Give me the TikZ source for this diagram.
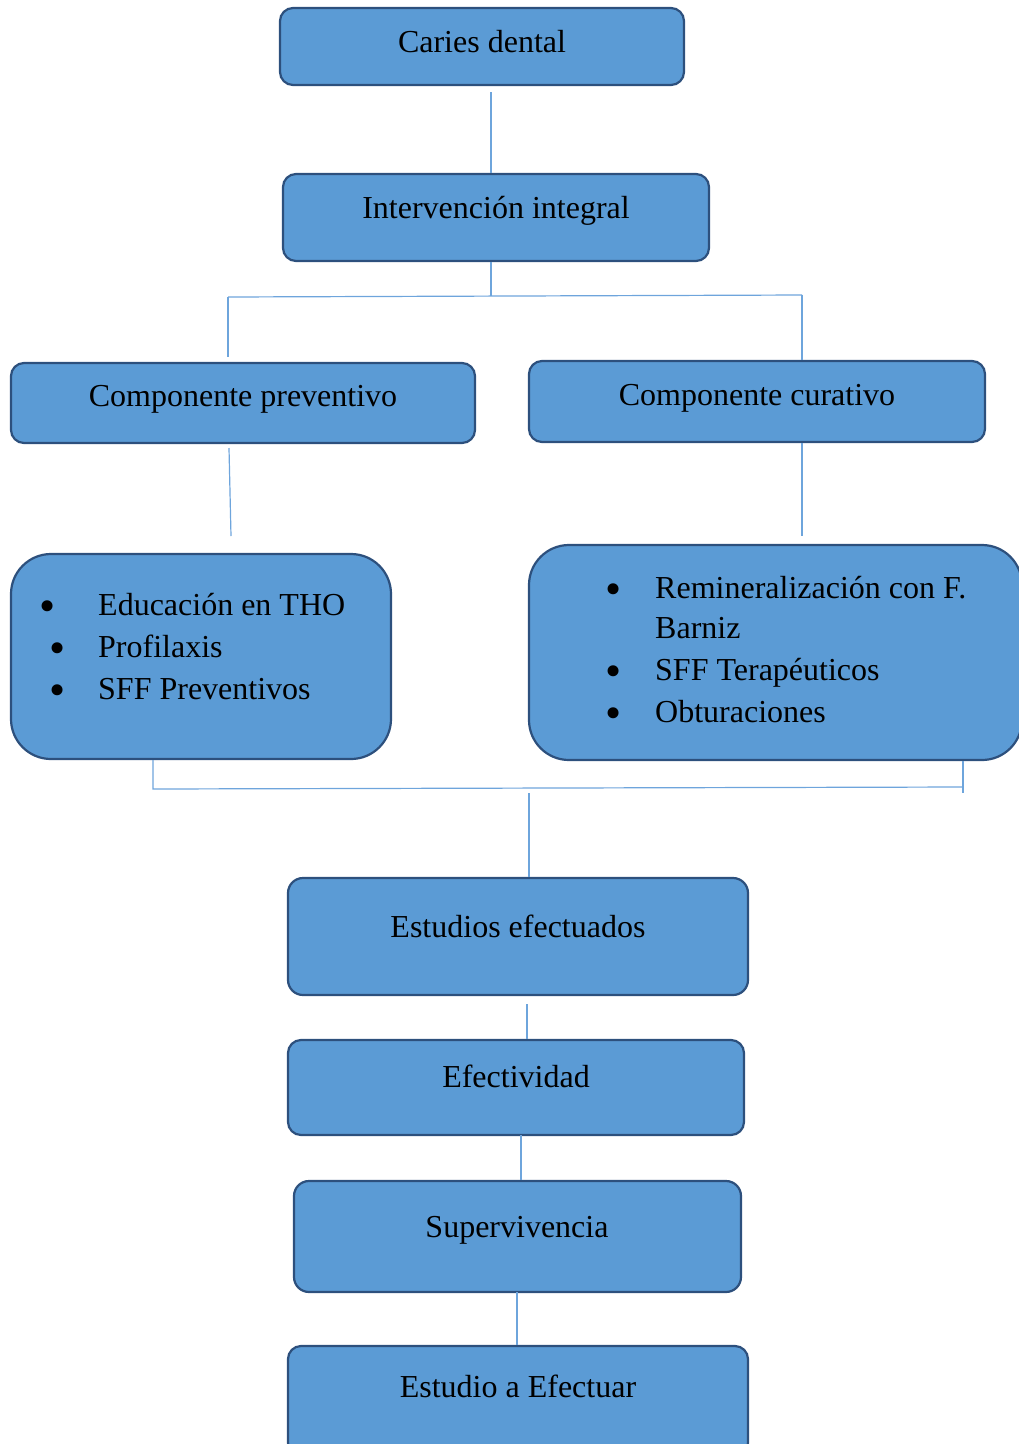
\documentclass[tikz,border=0pt]{standalone}
\usepackage{fontspec}
\setmainfont{Liberation Serif}
\definecolor{boxfill}{RGB}{91,155,213}
\definecolor{boxline}{RGB}{45,80,125}
\definecolor{connc}{RGB}{110,165,220}
\begin{document}
\begin{tikzpicture}[x=1pt,y=-1pt,
  box/.style={draw=boxline, line width=2.2pt, fill=boxfill, rounded corners=13pt, inner sep=0pt},
  bigbox/.style={box, rounded corners=40pt},
  lbl/.style={font=\fontsize{32}{40}\selectfont, anchor=base, inner sep=0pt},
  itm/.style={font=\fontsize{32}{40}\selectfont, anchor=base west, inner sep=0pt},
  bul/.style={font=\fontsize{46}{46}\selectfont, anchor=center, inner sep=0pt},
  conn/.style={draw=connc, line width=1.2pt}]
\useasboundingbox (0,0) rectangle (1019,1444);
% boxes
\node[box, minimum width=404pt, minimum height=77pt] (cd) at (482,46.5) {};
\node[box, minimum width=426pt, minimum height=87pt] (ii) at (496,217.5) {};
\node[box, minimum width=464pt, minimum height=80pt] (cp) at (243,403) {};
\node[box, minimum width=456pt, minimum height=81pt] (cc) at (757,401.5) {};
\node[bigbox, minimum width=380pt, minimum height=205pt] (lb) at (201,656.5) {};
\node[bigbox, minimum width=493pt, minimum height=215pt] (rb) at (775.5,652.5) {};
\node[box, minimum width=460pt, minimum height=117pt, rounded corners=15pt] (ee) at (518,936.5) {};
\node[box, minimum width=456pt, minimum height=95pt] (ef) at (516,1087.5) {};
\node[box, minimum width=447pt, minimum height=111pt, rounded corners=15pt] (sv) at (517.5,1236.5) {};
\node[box, minimum width=460pt, minimum height=110pt] (ea) at (518,1401) {};
% labels
\node[lbl] (tcd) at (482,52) {Caries dental};
\node[lbl] (tii) at (496,218) {Intervención integral};
\node[lbl] (tcp) at (243,406) {Componente preventivo};
\node[lbl] (tcc) at (757,405) {Componente curativo};
\node[lbl] (tee) at (518,937) {Estudios efectuados};
\node[lbl] (tef) at (516,1087) {Efectividad};
\node[lbl] (tsv) at (517,1237) {Supervivencia};
\node[lbl] (tea) at (518,1397) {Estudio a Efectuar};
% left list
\node[bul] (lb1) at (48,611) {•};
\node[bul] (lb2) at (58,653) {•};
\node[bul] (lb3) at (58,695) {•};
\node[itm] (li1) at (98,615) {Educación en THO};
\node[itm] (li2) at (98,657) {Profilaxis};
\node[itm] (li3) at (98,699) {SFF Preventivos};
% right list
\node[bul] (rb1) at (614,594) {•};
\node[bul] (rb2) at (614,676) {•};
\node[bul] (rb3) at (614,718) {•};
\node[itm] (ri1) at (655,598) {Remineralización con F.};
\node[itm] (ri1b) at (655,638) {Barniz};
\node[itm] (ri2) at (655,680) {SFF Terapéuticos};
\node[itm] (ri3) at (655,722) {Obturaciones};
% connector points
\coordinate (a1) at (491,92);
\coordinate (j1) at (491,296);
\coordinate (jl) at (228,297);
\coordinate (jr) at (802,295);
\coordinate (jle) at (228,357);
\coordinate (p1) at (229,448);
\coordinate (p2) at (231,536);
\coordinate (q2) at (802,536);
\coordinate (bl) at (153,789);
\coordinate (br) at (963,787);
\coordinate (bre) at (963,793);
\coordinate (m1) at (529,793);
\coordinate (e1) at (527,1004);
% connectors
\draw[conn] (a1) -- (a1 |- ii.north);
\draw[conn] (j1 |- ii.south) -- (j1);
\draw[conn] (jl) -- (jr);
\draw[conn] (jl) -- (jle);
\draw[conn] (jr) -- (jr |- cc.north);
\draw[conn] (p1) -- (p2);
\draw[conn] (q2 |- cc.south) -- (q2);
\draw[conn] (bl |- lb.south) -- (bl) -- (br);
\draw[conn] (br |- rb.south) -- (bre);
\draw[conn] (m1) -- (m1 |- ee.north);
\draw[conn] (e1) -- (e1 |- ef.north);
\draw[conn] (521,1135) coordinate (f1) -- (f1 |- sv.north);
\draw[conn] (517,1292) coordinate (g1) -- (g1 |- ea.north);
\end{tikzpicture}
\end{document}
